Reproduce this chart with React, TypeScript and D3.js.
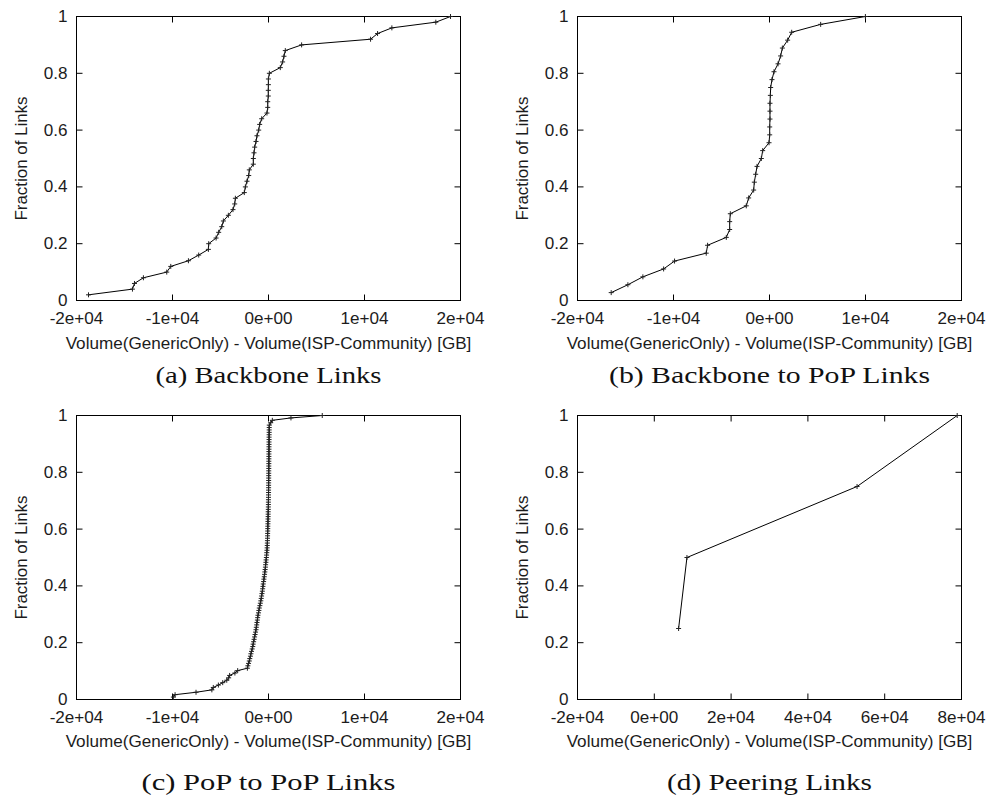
import React from "react";
import * as d3 from "d3";

// ---- Data (sorted per-link differences, GB) ----
const backboneDiff = [
  -18750, -14170, -13960, -13030, -10600, -10180, -8340, -7270, -6260, -6230,
  -5460, -5190, -4870, -4700, -4180, -3700, -3520, -3450, -2520, -2410,
  -2240, -2060, -2000, -1580, -1580, -1510, -1440, -1300, -1200, -1020,
  -920, -710, -160, -80, -80, -20, -20, -10, -10, 90,
  1230, 1470, 1610, 1750, 3450, 10630, 11360, 12850, 17430, 18960,
];

const backboneToPopDiff = [
  -16490, -14750, -13190, -11030, -9890, -6590, -6450, -4500, -4150, -4150,
  -4080, -2420, -2170, -1650, -1580, -1440, -1300, -850, -710, -50,
  20, 20, 50, 50, 50, 90, 120, 260, 470, 890,
  1160, 1340, 1890, 2310, 5330, 9990,
];

const popToPopDiff = [
  -9910, -9730, -7550, -5900, -5750, -5220, -4770, -4350, -4150, -4050,
  -3500, -3210, -2200, -2150, -2080, -2000, -1950, -1880, -1830, -1770,
  -1700, -1640, -1600, -1550, -1500, -1450, -1400, -1350, -1300, -1270,
  -1230, -1200, -1160, -1130, -1100, -1040, -1000, -960, -900, -850,
  -800, -760, -720, -680, -640, -610, -580, -550, -510, -480,
  -440, -410, -380, -350, -320, -300, -270, -250, -220, -200,
  -180, -160, -140, -130, -120, -110, -100, -95, -90, -80,
  -75, -70, -60, -55, -50, -40, -35, -30, -20, -15,
  -10, -10, -5, 0, 0, 5, 5, 10, 10, 15,
  15, 20, 20, 25, 25, 30, 30, 35, 35, 40,
  40, 45, 45, 50, 50, 55, 55, 60, 60, 65,
  70, 70, 75, 80, 230, 400, 2340, 5600,
];

const peeringDiff = [6330, 8500, 52800, 78880];

const xTicksSmall = [-20000, -10000, 0, 10000, 20000];
const xTickLabelsSmall = ["-2e+04", "-1e+04", "0e+00", "1e+04", "2e+04"];
const xTicksWide = [-20000, 0, 20000, 40000, 60000, 80000];
const xTickLabelsWide = ["-2e+04", "0e+00", "2e+04", "4e+04", "6e+04", "8e+04"];
const yTicks = [0, 0.2, 0.4, 0.6, 0.8, 1];
const yTickLabels = ["0", "0.2", "0.4", "0.6", "0.8", "1"];

const xLabel = "Volume(GenericOnly) - Volume(ISP-Community) [GB]";
const yLabel = "Fraction of Links";
const captions = [
  "(a) Backbone Links",
  "(b) Backbone to PoP Links",
  "(c) PoP to PoP Links",
  "(d) Peering Links",
];

const SANS = "'Liberation Sans', Arial, Helvetica, sans-serif";
const SERIF = "'Liberation Serif', 'Times New Roman', serif";
const TXT = "#1c1c1c";

type PanelProps = {
  values: number[];
  domain: [number, number];
  ticks: number[];
  tickLabels: string[];
  left: number;
  top: number;
  caption: string;
  captionWidth: number;
  captionBaseline: number;
  xLabelBaseline: number;
};

function Panel(p: PanelProps) {
  const W = 384;
  const H = 284;
  const x = d3.scaleLinear().domain(p.domain).range([p.left, p.left + W]);
  const y = d3.scaleLinear().domain([0, 1]).range([p.top + H, p.top]);
  const n = p.values.length;
  const pts: [number, number][] = p.values.map((v, i) => [v, (i + 1) / n]);
  const line = d3
    .line<[number, number]>()
    .x((d) => x(d[0]))
    .y((d) => y(d[1]));
  const tl = 6;
  const cx = p.left + W / 2;
  const cy = p.top + H / 2;
  const sx = 1.07;
  return (
    <g>
      {/* y ticks */}
      {yTicks.map((t, i) => (
        <g key={"y" + i}>
          <line x1={p.left} x2={p.left + tl} y1={y(t)} y2={y(t)} stroke="#000" strokeWidth={1} />
          <line x1={p.left + W - tl} x2={p.left + W} y1={y(t)} y2={y(t)} stroke="#000" strokeWidth={1} />
          <text
            transform={`translate(${p.left - 9},${y(t) + 5.5}) scale(${sx},1)`}
            textAnchor="end"
            fontFamily={SANS}
            fontSize={16}
            fill={TXT}
          >
            {yTickLabels[i]}
          </text>
        </g>
      ))}
      {/* x ticks */}
      {p.ticks.map((t, i) => (
        <g key={"x" + i}>
          <line x1={x(t)} x2={x(t)} y1={p.top + H} y2={p.top + H - tl} stroke="#000" strokeWidth={1} />
          <line x1={x(t)} x2={x(t)} y1={p.top} y2={p.top + tl} stroke="#000" strokeWidth={1} />
          <text
            transform={`translate(${x(t)},${p.top + H + 23.5}) scale(${sx},1)`}
            textAnchor="middle"
            fontFamily={SANS}
            fontSize={16}
            fill={TXT}
          >
            {p.tickLabels[i]}
          </text>
        </g>
      ))}
      <rect x={p.left} y={p.top} width={W} height={H} fill="none" stroke="#000" strokeWidth={1} />
      <path d={line(pts) || ""} fill="none" stroke="#000" strokeWidth={1} />
      {pts.map((d, i) => (
        <path
          key={"m" + i}
          d={`M${x(d[0]) - 2.5},${y(d[1])}H${x(d[0]) + 2.5}M${x(d[0])},${y(d[1]) - 2.5}V${y(d[1]) + 2.5}`}
          stroke="#222"
          strokeWidth={1}
        />
      ))}
      {/* y label */}
      <text
        transform={`translate(${p.left - 50},${cy}) rotate(-90)`}
        textAnchor="middle"
        fontFamily={SANS}
        fontSize={16}
        fill={TXT}
        textLength={124}
        lengthAdjust="spacingAndGlyphs"
      >
        {yLabel}
      </text>
      {/* x label */}
      <text
        transform={`translate(${cx},${p.xLabelBaseline}) scale(${sx},1)`}
        textAnchor="middle"
        fontFamily={SANS}
        fontSize={16}
        fill={TXT}
      >
        {xLabel}
      </text>
      {/* caption */}
      <text
        x={cx - p.captionWidth / 2}
        y={p.captionBaseline}
        fontFamily={SERIF}
        fontSize={24}
        fill="#111"
        textLength={p.captionWidth}
        lengthAdjust="spacingAndGlyphs"
      >
        {p.caption}
      </text>
    </g>
  );
}

export default function App() {
  return (
    <svg
      width={998}
      height={796}
      style={{ position: "absolute", left: 0, top: 0, background: "#fff" }}
    >
      <rect x={0} y={0} width={998} height={796} fill="#fff" />
      <Panel
        values={backboneDiff}
        domain={[-20000, 20000]}
        ticks={xTicksSmall}
        tickLabels={xTickLabelsSmall}
        left={76.5}
        top={16.5}
        caption={captions[0]}
        captionWidth={226}
        captionBaseline={382.5}
        xLabelBaseline={348.5}
      />
      <Panel
        values={backboneToPopDiff}
        domain={[-20000, 20000]}
        ticks={xTicksSmall}
        tickLabels={xTickLabelsSmall}
        left={577.5}
        top={16.5}
        caption={captions[1]}
        captionWidth={321}
        captionBaseline={382.5}
        xLabelBaseline={348.5}
      />
      <Panel
        values={popToPopDiff}
        domain={[-20000, 20000]}
        ticks={xTicksSmall}
        tickLabels={xTickLabelsSmall}
        left={76.5}
        top={415.5}
        caption={captions[2]}
        captionWidth={254}
        captionBaseline={790}
        xLabelBaseline={747}
      />
      <Panel
        values={peeringDiff}
        domain={[-20000, 80000]}
        ticks={xTicksWide}
        tickLabels={xTickLabelsWide}
        left={577.5}
        top={415.5}
        caption={captions[3]}
        captionWidth={205}
        captionBaseline={790}
        xLabelBaseline={747}
      />
    </svg>
  );
}
